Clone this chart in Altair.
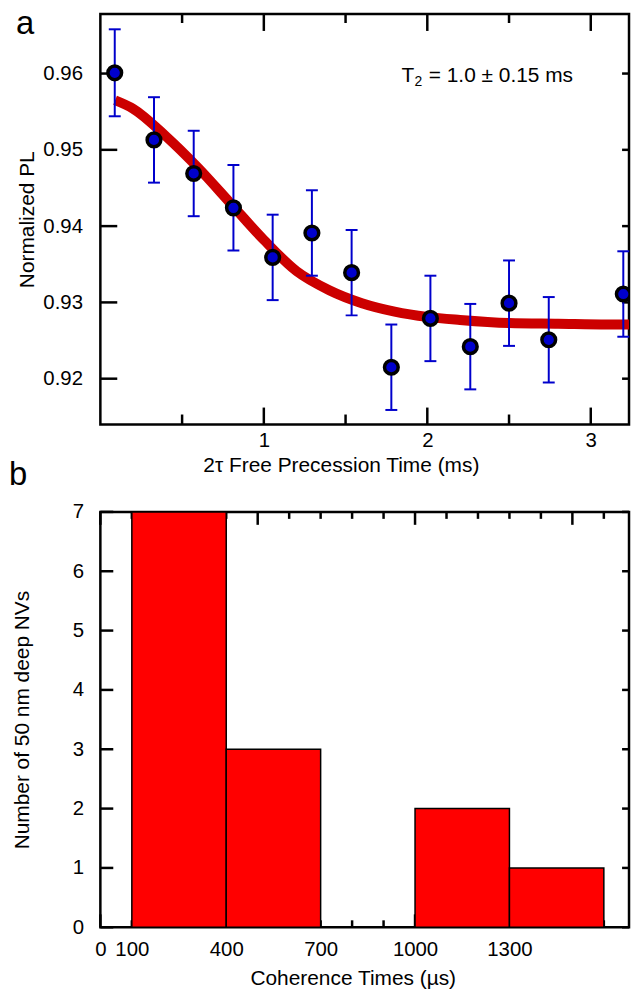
import altair as alt
import pandas as pd

FONT = "Liberation Sans"

# ---------------- panel a : decay data ----------------
t_ms = [0.088, 0.328, 0.571, 0.814, 1.054, 1.294, 1.537, 1.780, 2.019, 2.263, 2.500, 2.743, 3.199]
pl = [0.9601, 0.9513, 0.9469, 0.9424, 0.9359, 0.9391, 0.9339, 0.9215, 0.9279, 0.9242, 0.9299, 0.9251, 0.9311]
pl_err = [0.0057, 0.0056, 0.0056, 0.0056, 0.0056, 0.0056, 0.0056, 0.0056, 0.0056, 0.0056, 0.0056, 0.0056, 0.0056]

fit_t = [0.09, 0.2, 0.4, 0.6, 0.8, 1.0, 1.2, 1.4, 1.6, 1.8, 2.0, 2.2, 2.5, 2.8, 3.1, 3.3]
fit_pl = [0.9565, 0.9554, 0.9518, 0.9476, 0.9429, 0.9382, 0.9341, 0.9316, 0.9299, 0.9288, 0.9281, 0.9277, 0.9273, 0.9272, 0.9271, 0.9271]

a_x_labels = [1, 2, 3]
a_x_ticks_major = [1, 2, 3]
a_x_ticks_minor = [0.5, 1.5, 2.5]
a_y_ticks = [0.92, 0.93, 0.94, 0.95, 0.96]

# ---------------- panel b : histogram ----------------
bin_start = [100, 400, 1000, 1300]
bin_end = [400, 700, 1300, 1600]
counts = [7, 3, 2, 1]
b_x_labels = [0, 100, 400, 700, 1000, 1300]
b_x_ticks_major = [0, 500, 1000, 1500]
b_x_ticks_minor = [100, 200, 300, 400, 600, 700, 800, 900, 1100, 1200, 1300, 1400, 1600]
b_y_ticks = [0, 1, 2, 3, 4, 5, 6, 7]

W1, H1 = 532, 413
W2, H2 = 532, 418

BLUE = "#0000cc"
DARKRED = "#cc0000"
RED = "#ff0000"

# ---------- panel a ----------
a_df = pd.DataFrame({"t": t_ms, "pl": pl, "err": pl_err})
a_df["lo"] = a_df["pl"] - a_df["err"]
a_df["hi"] = a_df["pl"] + a_df["err"]
fit_df = pd.DataFrame({"t": fit_t, "pl": fit_pl})

xs_a = alt.Scale(domain=[0, 3.234], nice=False, zero=False)
ys_a = alt.Scale(domain=[0.914, 0.9678], nice=False, zero=False)

ax_x_a = alt.Axis(values=a_x_labels, title="2τ Free Precession Time (ms)", ticks=False, tickSize=0,
                  domain=False, grid=False, labelPadding=6, titlePadding=3.5, titleX=242,
                  labelFlush=False, labelOverlap=False)
ax_y_a = alt.Axis(values=a_y_ticks, format=".2f", title="Normalized PL", ticks=False, tickSize=0,
                  domain=False, grid=False, labelPadding=18, titlePadding=5.5,
                  labelFlush=False, labelOverlap=False)


def XA(f):
    return alt.X(f"{f}:Q", scale=xs_a, axis=ax_x_a)


def YA(f):
    return alt.Y(f"{f}:Q", scale=ys_a, axis=ax_y_a)


def vticks(vals, X, y0, y1):
    return alt.Chart(pd.DataFrame({"v": vals})).mark_rule(color="black", strokeWidth=2.5).encode(
        x=X("v"), y=alt.value(y0), y2=alt.value(y1))


def hticks(vals, Y, x0, x1):
    return alt.Chart(pd.DataFrame({"v": vals})).mark_rule(color="black", strokeWidth=2.5).encode(
        y=Y("v"), x=alt.value(x0), x2=alt.value(x1))


def label_text(txt, x, y, size, baseline="alphabetic"):
    return alt.Chart(pd.DataFrame({"s": [txt]})).mark_text(
        align="left", baseline=baseline, fontSize=size, font=FONT, color="black").encode(
        x=alt.value(x), y=alt.value(y), text="s:N")


a_layers = [
    vticks(a_x_ticks_major, XA, 0, 17),
    vticks(a_x_ticks_minor, XA, 0, 9),
    vticks(a_x_ticks_major, XA, H1, H1 - 17),
    vticks(a_x_ticks_minor, XA, H1, H1 - 10),
    hticks(a_y_ticks, YA, 0, 17),
    hticks(a_y_ticks, YA, W1, W1 - 7),
    alt.Chart(fit_df).mark_line(color=DARKRED, strokeWidth=10, interpolate="monotone", clip=True).encode(
        x=XA("t"), y=YA("pl")),
    alt.Chart(a_df).mark_rule(color=BLUE, strokeWidth=2).encode(
        x=XA("t"), y=YA("lo"), y2=alt.Y2("hi:Q")),
    alt.Chart(a_df).mark_tick(color=BLUE, orient="horizontal", size=12, thickness=2, opacity=1).encode(
        x=XA("t"), y=YA("lo")),
    alt.Chart(a_df).mark_tick(color=BLUE, orient="horizontal", size=12, thickness=2, opacity=1).encode(
        x=XA("t"), y=YA("hi")),
    alt.Chart(a_df).mark_circle(size=190, fill=BLUE, stroke="black", strokeWidth=3.5, opacity=1,
                                clip=True).encode(
        x=XA("t"), y=YA("pl")),
    label_text("T", 303, 68, 21),
    label_text("2", 316, 72, 14),
    label_text("= 1.0 ± 0.15 ms", 330.5, 68, 21),
    label_text("a", -85, 20.3, 33),
    label_text("b", -92, 473.7, 33),
]
panel_a = alt.layer(*a_layers).properties(width=W1, height=H1)

# ---------- panel b ----------
b_df = pd.DataFrame({"s": bin_start, "e": bin_end, "n": counts})
xs_b = alt.Scale(domain=[0, 1680], nice=False, zero=False)
ys_b = alt.Scale(domain=[0, 7], nice=False, zero=False)

ax_x_b = alt.Axis(values=b_x_labels, format="d", title="Coherence Times (µs)", ticks=False, tickSize=0,
                  domain=False, grid=False, labelPadding=12.8, titlePadding=7, titleX=254,
                  labelFlush=False, labelOverlap=False)
ax_y_b = alt.Axis(values=b_y_ticks, format="d", title="Number of 50 nm deep NVs", ticks=False, tickSize=0,
                  domain=False, grid=False, labelPadding=17, titlePadding=40,
                  labelFlush=False, labelOverlap=False)


def XB(f):
    return alt.X(f"{f}:Q", scale=xs_b, axis=ax_x_b)


def YB(f):
    return alt.Y(f"{f}:Q", scale=ys_b, axis=ax_y_b)


b_layers = [
    vticks(b_x_ticks_major, XB, 0, 13),
    vticks(b_x_ticks_minor, XB, 0, 7),
    vticks(b_x_ticks_major, XB, H2, H2 - 13),
    vticks(b_x_ticks_minor, XB, H2, H2 - 7),
    hticks(b_y_ticks, YB, 0, 13),
    hticks(b_y_ticks, YB, W2, W2 - 7),
    alt.Chart(b_df).mark_bar(color=RED, stroke="black", strokeWidth=1.5, opacity=1).encode(
        x=XB("s"), x2=alt.X2("e:Q"), y=YB("n"), y2=alt.datum(0)),
]
panel_b = alt.layer(*b_layers).properties(width=W2, height=H2)

chart = alt.vconcat(panel_a, panel_b, spacing=7).properties(
    padding={"left": 7, "top": 4, "right": 0, "bottom": 0}
).configure(font=FONT).configure_view(
    stroke="black", strokeWidth=2.5
).configure_axis(
    labelFont=FONT, titleFont=FONT, labelFontSize=20.5, titleFontSize=21,
    titleFontWeight="normal", labelColor="black", titleColor="black"
)

chart.save("out.html", embed_options={"renderer": "svg", "actions": False})
